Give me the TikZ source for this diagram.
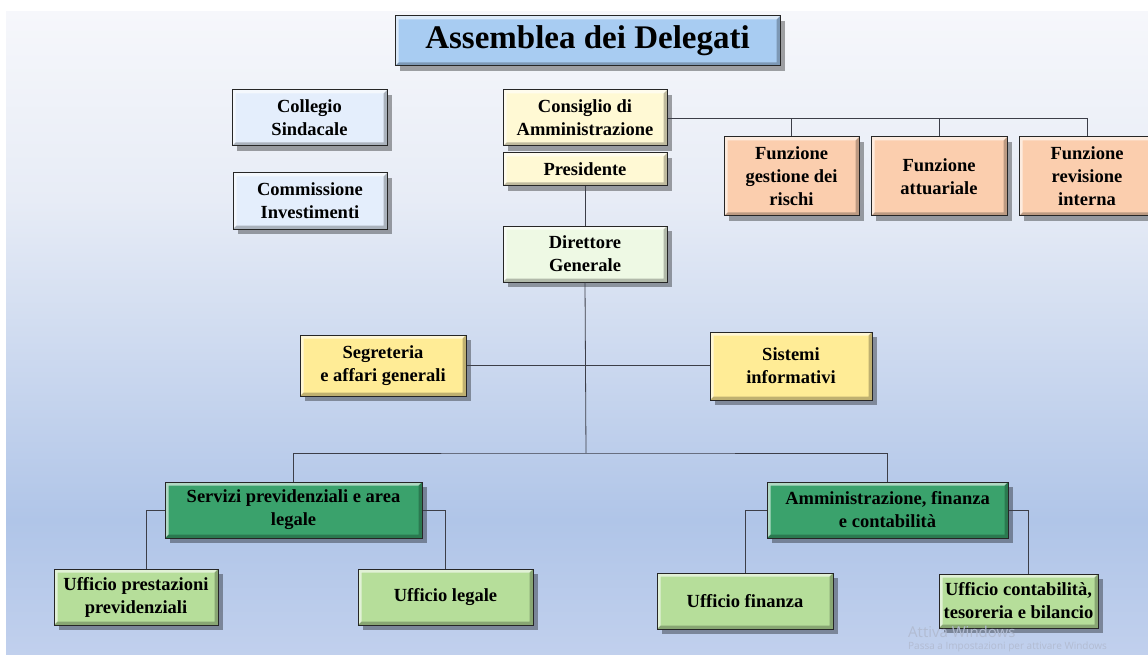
\documentclass[tikz,border=0pt]{standalone}
\usepackage{fontspec}
\setmainfont{Liberation Serif}
\newfontfamily\winfont{Open Sans}
\usetikzlibrary{shadows, positioning}

\definecolor{titleblue}{RGB}{168,204,242}
\definecolor{paleblue}{RGB}{228,238,252}
\definecolor{paleyellow}{RGB}{255,249,212}
\definecolor{palegreen}{RGB}{238,249,228}
\definecolor{peach}{RGB}{251,206,174}
\definecolor{yellowbox}{RGB}{255,236,150}
\definecolor{darkgreen}{RGB}{58,162,108}
\definecolor{lightgreen}{RGB}{182,222,154}
\definecolor{linkgray}{RGB}{60,62,72}

% light top/left and dark bottom/right edges of a box
\newcommand{\bevelbox}{%
  \fill[white,opacity=0.6] (path picture bounding box.north west) -- (path picture bounding box.north east)
    -- ([shift={(-3.5pt,-3.5pt)}]path picture bounding box.north east) -- ([shift={(3.5pt,-3.5pt)}]path picture bounding box.north west)
    -- ([shift={(3.5pt,3.5pt)}]path picture bounding box.south west) -- (path picture bounding box.south west) -- cycle;
  \fill[black,opacity=0.25] (path picture bounding box.south east) -- (path picture bounding box.south west)
    -- ([shift={(3.5pt,3.5pt)}]path picture bounding box.south west) -- ([shift={(-3.5pt,3.5pt)}]path picture bounding box.south east)
    -- ([shift={(-3.5pt,-3.5pt)}]path picture bounding box.north east) -- (path picture bounding box.north east) -- cycle;
}

\tikzset{
  orgbox/.style={draw=black!85, line width=1pt, align=center, inner sep=0pt,
    font=\bfseries\fontsize{18.5}{23}\selectfont,
    drop shadow={shadow xshift=5pt, shadow yshift=-5pt, fill=black, opacity=0.35},
    path picture={\bevelbox}},
  link/.style={draw=linkgray, line width=0.8pt}
}

\begin{document}
\begin{tikzpicture}[x=1pt, y=-1pt]
\useasboundingbox (0,0) rectangle (1148,655);
% background
\fill[white] (0,0) rectangle (1148,655);
\shade[top color={rgb,255:red,246;green,247;blue,251}, bottom color={rgb,255:red,231;green,236;blue,246}] (6,12) rectangle (1148,200);
\shade[top color={rgb,255:red,231;green,236;blue,246}, bottom color={rgb,255:red,176;green,197;blue,232}] (6,199.5) rectangle (1148,520);
\shade[top color={rgb,255:red,176;green,197;blue,232}, bottom color={rgb,255:red,193;green,208;blue,237}] (6,519.5) rectangle (1148,655);

% governance
\node[orgbox, fill=titleblue, minimum width=385, minimum height=50, font=\bfseries\fontsize{33}{36}\selectfont] (title) at (587.5,41) {Assemblea dei Delegati};
\node[orgbox, fill=paleblue, minimum width=155, minimum height=56] (collegio) at (309.5,118) {Collegio\\Sindacale};
\node[orgbox, fill=paleblue, minimum width=154, minimum height=56] (commissione) at (310,201) {Commissione\\Investimenti};
\node[orgbox, fill=paleyellow, minimum width=164, minimum height=56] (cda) at (585,118) {Consiglio di\\Amministrazione};
\node[orgbox, fill=paleyellow, minimum width=164, minimum height=33] (presidente) at (585,169.5) {Presidente};
\node[orgbox, fill=palegreen, minimum width=164, minimum height=56] (dg) at (585,254) {Direttore\\Generale};

% funzioni
\node[orgbox, fill=peach, minimum width=135, minimum height=79] (frischi) at (791.5,176.5) {Funzione\\gestione dei\\rischi};
\node[orgbox, fill=peach, minimum width=136, minimum height=79] (fattuariale) at (939,176.5) {Funzione\\attuariale};
\node[orgbox, fill=peach, minimum width=136, minimum height=79] (frevisione) at (1087,176.5) {Funzione\\revisione\\interna};

% staff
\node[orgbox, fill=yellowbox, minimum width=166, minimum height=61] (segreteria) at (383,365.5) {Segreteria\\e affari generali};
\node[orgbox, fill=yellowbox, minimum width=162, minimum height=68] (sistemi) at (791,366) {Sistemi\\informativi};

% aree
\node[orgbox, fill=darkgreen, minimum width=257, minimum height=56] (servizi) at (293.5,510) {Servizi previdenziali e area\\legale};
\node[orgbox, fill=darkgreen, minimum width=241, minimum height=56] (amministrazione) at (887.5,510) {Amministrazione, finanza\\e contabilità};

% uffici
\node[orgbox, fill=lightgreen, minimum width=164, minimum height=56] (uprestazioni) at (136,597) {Ufficio prestazioni\\previdenziali};
\node[orgbox, fill=lightgreen, minimum width=175, minimum height=56] (ulegale) at (445.5,597) {Ufficio legale};
\node[orgbox, fill=lightgreen, minimum width=176, minimum height=56] (ufinanza) at (745,601) {Ufficio finanza};
\node[orgbox, fill=lightgreen, minimum width=159, minimum height=54] (ucontabilita) at (1018.5,601) {Ufficio contabilità,\\tesoreria e bilancio};

\coordinate (bus) at (586,453);

% connectors
\draw[link] (cda.east) -| (frevisione.north);
\draw[link] (frischi.north) -- (frischi.north |- cda.east);
\draw[link] (fattuariale.north) -- (fattuariale.north |- cda.east);
\draw[link] (presidente.south) -- (dg.north);
\draw[link] (dg.south) -- (bus);
\draw[link] (segreteria.east) -- (segreteria.east -| sistemi.west);
\draw[link] (servizi.north) |- (bus) -| (amministrazione.north);
\draw[link] (servizi.west) -| ([xshift=10pt]uprestazioni.north);
\draw[link] (servizi.east) -| (ulegale.north);
\draw[link] (amministrazione.west) -| (ufinanza.north);
\draw[link] (amministrazione.east) -| ([xshift=10pt]ucontabilita.north);

% screen watermark
\node[anchor=north west, inner sep=0pt, text={rgb,255:red,178;green,188;blue,210}, font=\winfont\fontsize{15}{17}\selectfont] (attiva) at (908,626) {Attiva Windows};
\node[anchor=north west, inner sep=0pt, text={rgb,255:red,178;green,188;blue,210}, font=\winfont\fontsize{10}{12}\selectfont] (passa) at (908,642) {Passa a Impostazioni per attivare Windows};
\end{tikzpicture}
\end{document}
